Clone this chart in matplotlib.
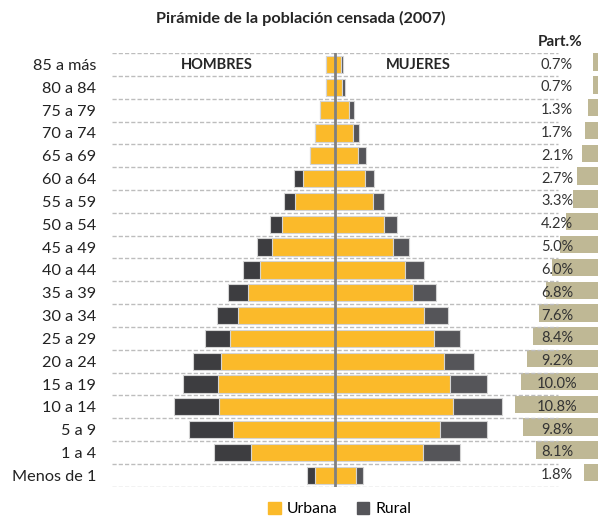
import numpy as np
import matplotlib.pyplot as plt
from matplotlib.patches import Patch

plt.rcParams['font.family'] = ['Lato', 'DejaVu Sans']

# age groups, top to bottom
grupos = ['85 a más', '80 a 84', '75 a 79', '70 a 74', '65 a 69', '60 a 64',
          '55 a 59', '50 a 54', '45 a 49', '40 a 44', '35 a 39', '30 a 34',
          '25 a 29', '20 a 24', '15 a 19', '10 a 14', '5 a 9', '1 a 4',
          'Menos de 1']

# bar lengths (relative units)
hombres_urbana = [9, 9, 14.7, 20, 25.3, 32, 40, 53.3, 63, 75, 87.3, 96.7,
                  104.7, 114.3, 116.7, 115.7, 102, 84.3, 20]
hombres_rural = [0, 0, 0, 0, 0, 9.3, 10.7, 12, 14.7, 17.3, 20, 21.3,
                 25.6, 28, 35.3, 45.6, 44.3, 36.4, 7.7]
mujeres_urbana = [5.7, 7, 13.7, 17.7, 23.3, 30, 38, 48.7, 58, 70.3, 78.3, 89,
                  98.7, 109.3, 115, 117.7, 105.3, 88, 20.7]
mujeres_rural = [2, 2.7, 5.3, 6.6, 8, 9.3, 10.7, 13.3, 16.3, 18.7, 23, 24.3,
                 26.6, 29.7, 37.3, 49.6, 47, 37.3, 7.6]
part = [0.7, 0.7, 1.3, 1.7, 2.1, 2.7, 3.3, 4.2, 5.0, 6.0, 6.8, 7.6,
        8.4, 9.2, 10.0, 10.8, 9.8, 8.1, 1.8]

amarillo = '#FBBA2A'
gris_h = '#3D3D40'
gris_m = '#555559'
tan = '#BFB895'

W, H = 598, 517
fig = plt.figure(figsize=(W / 100, H / 100), dpi=100)

y = np.arange(len(grupos))
hu = np.array(hombres_urbana)
hr = np.array(hombres_rural)
mu = np.array(mujeres_urbana)
mr = np.array(mujeres_rural)

bottom = 1 - 486.7 / H
height = (486.7 - 53.1) / H

# participation bars on the right
ax2 = fig.add_axes([501 / W, bottom + 2.5 / H, 97 / W, height])
ax2.barh(y, part, height=0.76, color=tan)
ax2.set_xlim(12.6, 0)
ax2.set_ylim(len(grupos) - 0.5, -0.5)
ax2.axis('off')
ax2.set_zorder(1)

# pyramid
ax = fig.add_axes([112 / W, bottom, (W - 112) / W, height])
ax.set_zorder(2)
ax.patch.set_visible(False)
bh = 0.76
ek = dict(edgecolor='#D4D4D4', linewidth=0.8)
ax.barh(y, -hu, height=bh, color=amarillo, **ek)
ax.barh(y, -hr, left=-hu, height=bh, color=gris_h, **ek)
ax.barh(y, mu, height=bh, color=amarillo, **ek)
ax.barh(y, mr, left=mu, height=bh, color=gris_m, **ek)

ax.hlines(np.arange(len(grupos) + 1) - 0.5, -223, 223, colors='#BDBDBD',
          linestyles=(0, (3, 1.5)), linewidth=1, zorder=0)
ax.axvline(0, color='#808080', linewidth=2)

ax.set_xlim(-223, 263)
ax.set_ylim(len(grupos) - 0.5, -0.5)
ax.set_yticks(y)
ax.set_yticklabels(grupos, fontsize=11.7, color='#222222')
ax.tick_params(axis='y', length=0, pad=11.5)
ax.set_xticks([])
for s in ax.spines.values():
    s.set_visible(False)

for i, p in enumerate(part):
    ax.text(222, i, f'{p:.1f}%', ha='center', va='center', fontsize=10.5,
            color='#333333')

ax.text(-118, 0, 'HOMBRES', ha='center', va='center', fontsize=10.5,
        fontweight='bold', color='#262626')
ax.text(83, 0, 'MUJERES', ha='center', va='center', fontsize=10.5,
        fontweight='bold', color='#262626')

fig.text(301 / W, 1 - 18 / H, 'Pirámide de la población censada (2007)',
         ha='center', va='center', fontsize=11.7, fontweight='bold',
         color='#262626')
fig.text(560 / W, 1 - 42 / H, 'Part.%', ha='center', va='center',
         fontsize=11, fontweight='bold', color='#262626')

handles = [Patch(color=amarillo, label='Urbana'),
           Patch(color=gris_m, label='Rural')]
fig.legend(handles=handles, loc='center', bbox_to_anchor=(340 / W, 1 - 509 / H),
           ncol=2, frameon=False, fontsize=11.3, handlelength=0.8,
           handleheight=0.8, handletextpad=0.4, columnspacing=1.2)

fig.savefig('out.png', dpi=100)
